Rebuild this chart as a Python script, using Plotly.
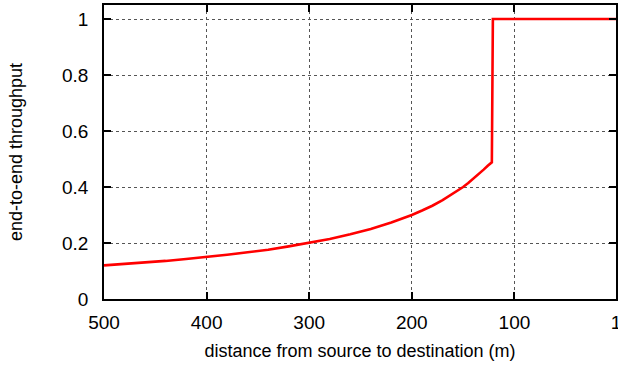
import plotly.graph_objects as go

# distance (m) and end-to-end throughput
distance = [500, 480, 460, 440, 420, 400, 380, 360, 340, 320, 300, 280, 260, 240,
            220, 210, 200, 190, 180, 170, 160, 155, 150, 145, 140, 135, 130, 126,
            122, 121, 120, 1]
throughput = [0.120, 0.125, 0.130, 0.136, 0.143, 0.150, 0.158, 0.167, 0.176, 0.188,
              0.200, 0.214, 0.231, 0.250, 0.273, 0.286, 0.300, 0.316, 0.333, 0.353,
              0.375, 0.387, 0.400, 0.414, 0.429, 0.444, 0.462, 0.476,
              0.488, 1.0, 1.0, 1.0]

x_tickvals = [500, 400, 300, 200, 100, 1]
x_ticktext = ["500", "400", "300", "200", "100", "1"]
y_tickvals = [0, 0.2, 0.4, 0.6, 0.8, 1]
y_ticktext = ["0", "0.2", "0.4", "0.6", "0.8", "1"]

fig = go.Figure()
fig.add_trace(go.Scatter(x=distance, y=throughput, mode="lines",
                         line=dict(color="#ff0000", width=2.6), showlegend=False))

fam = "Liberation Sans, Arial, sans-serif"

fig.update_layout(
    width=618, height=367,
    margin=dict(l=104, r=2, t=5, b=68),
    paper_bgcolor="white", plot_bgcolor="white",
    font=dict(family=fam, size=19, color="black"),
    xaxis=dict(range=[500, 1], tickvals=x_tickvals, ticktext=x_ticktext,
               automargin=False, ticklabeloverflow="allow",
               showline=True, linecolor="black", linewidth=1.5, mirror="ticks",
               ticks="inside", ticklen=7, tickcolor="black", tickwidth=1.5,
               showgrid=True, gridcolor="#555", griddash="dot", gridwidth=1,
               zeroline=False, ticklabelstandoff=5,
               tickfont=dict(family=fam, size=19),
               title=dict(text="distance from source to destination (m)", standoff=13,
                          font=dict(family=fam, size=18))),
    yaxis=dict(range=[0, 1.05], tickvals=y_tickvals, ticktext=y_ticktext,
               automargin=False, ticklabeloverflow="allow",
               showline=True, linecolor="black", linewidth=1.5, mirror="ticks",
               ticks="inside", ticklen=7, tickcolor="black", tickwidth=1.5,
               showgrid=True, gridcolor="#555", griddash="dot", gridwidth=1,
               zeroline=False, ticklabelstandoff=10,
               tickfont=dict(family=fam, size=19),
               title=dict(text="end-to-end throughput", standoff=35,
                          font=dict(family=fam, size=18))),
)

fig.write_html("out.html", config={"displayModeBar": False},
               post_script="document.body.style.margin='0';document.body.style.overflow='hidden';")
